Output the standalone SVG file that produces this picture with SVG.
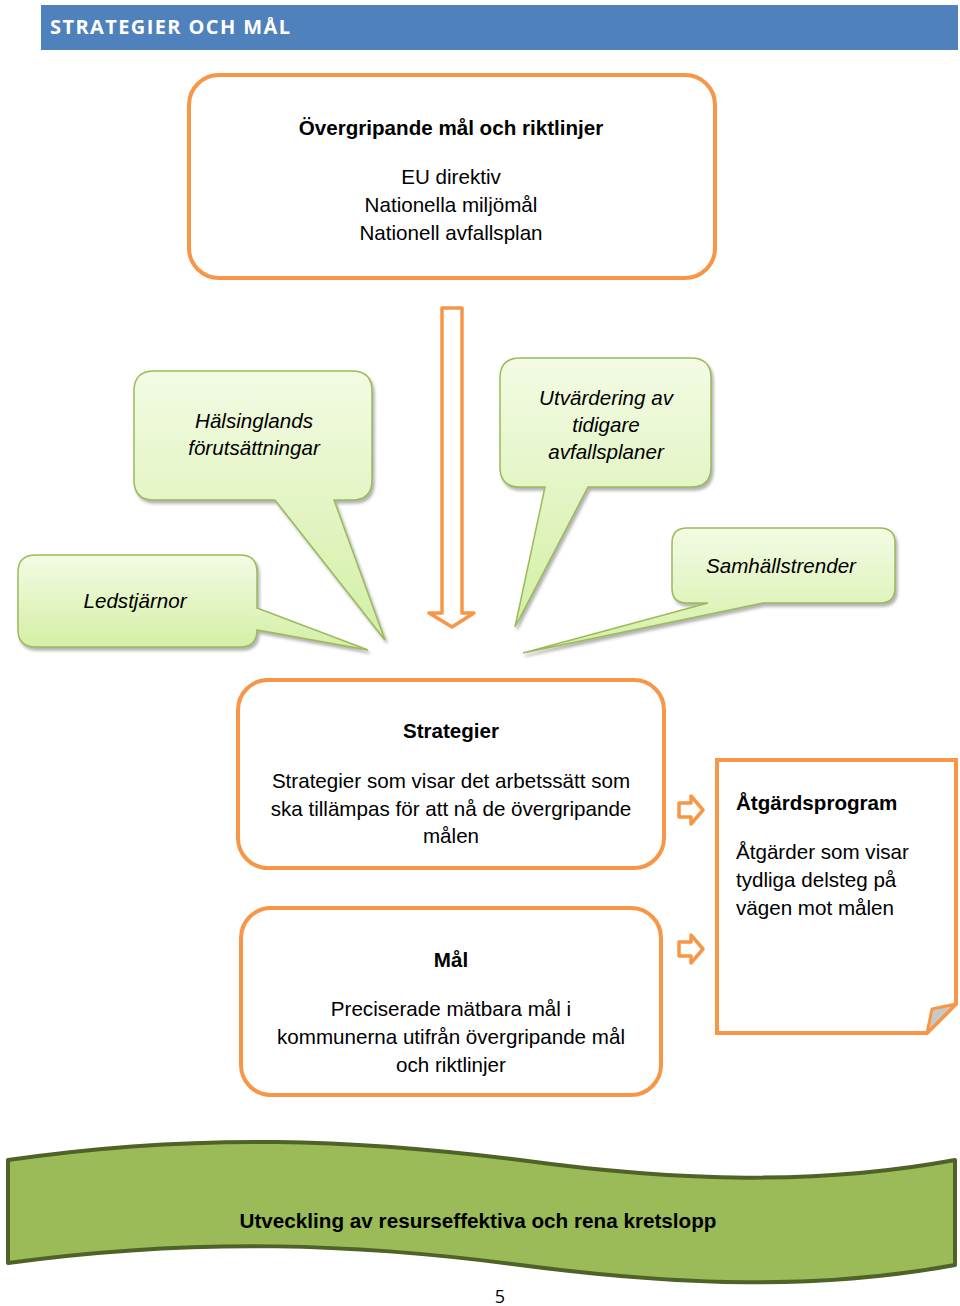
<svg xmlns="http://www.w3.org/2000/svg" width="960" height="1306" viewBox="0 0 960 1306">
<style>
.t{font-family:"Liberation Sans",Arial,sans-serif;font-size:20.6px;fill:#000}
.b{font-weight:bold}
.i{font-style:italic}
.c{text-anchor:middle}
.ob{fill:#fff;stroke:#f79646;stroke-width:4}
.gc{fill:url(#gg);stroke:#9bbb59;stroke-width:1.5;filter:url(#sh)}
.oa{fill:#fff;stroke:#f79646;stroke-width:3.5;stroke-linejoin:round}
</style>
<defs>
<linearGradient id="gg" x1="0" y1="0" x2="0" y2="1">
<stop offset="0" stop-color="#f3fbe4"/>
<stop offset="1" stop-color="#d3efa4"/>
</linearGradient>
<filter id="sh" x="-10%" y="-10%" width="130%" height="130%">
<feDropShadow dx="2" dy="3" stdDeviation="1.5" flood-color="#808080" flood-opacity="0.6"/>
</filter>
</defs>
<g id="header">
<rect x="41" y="5" width="917" height="45" fill="#4f81bd"/>
<text x="50" y="34" font-family="'Open Sans',sans-serif" font-size="20" font-weight="bold" fill="#fff" letter-spacing="1.4">STRATEGIER OCH MÅL</text>
</g>
<g id="overgripande">
<rect class="ob" x="189" y="75" width="526" height="203" rx="30"/>
<text class="t b c" x="451" y="135">Övergripande mål och riktlinjer</text>
<text class="t c" x="451" y="184">EU direktiv</text>
<text class="t c" x="451" y="212">Nationella miljömål</text>
<text class="t c" x="451" y="240">Nationell avfallsplan</text>
</g>
<g id="connectors">
<path class="oa" d="M442,308 H462 V613 H474 L452,627 L429,613 H442 Z"/>
<path class="oa" d="M679,803 H691 V796 L703,810 L691,824 V817 H679 Z"/>
<path class="oa" d="M679,942 H691 V935 L703,949 L691,963 V956 H679 Z"/>
</g>
<g id="halsinglands">
<path class="gc" d="M154,371 H352 Q372,371 372,391 V480 Q372,500 352,500 H334 L385,640 L275,500 H154 Q134,500 134,480 V391 Q134,371 154,371 Z"/>
<text class="t i c" x="254" y="428">Hälsinglands</text>
<text class="t i c" x="254" y="455">förutsättningar</text>
</g>
<g id="utvardering">
<path class="gc" d="M520,358 H691 Q711,358 711,378 V467 Q711,487 691,487 H588 L515,627 L545,487 H520 Q500,487 500,467 V378 Q500,358 520,358 Z"/>
<text class="t i c" x="606" y="405">Utvärdering av</text>
<text class="t i c" x="606" y="432">tidigare</text>
<text class="t i c" x="606" y="459">avfallsplaner</text>
</g>
<g id="samhallstrender">
<path class="gc" d="M687,528 H880 Q895,528 895,543 V588 Q895,603 880,603 H763 L523,653 L708,603 H687 Q672,603 672,588 V543 Q672,528 687,528 Z"/>
<text class="t i c" x="781" y="573">Samhällstrender</text>
</g>
<g id="ledstjarnor">
<path class="gc" d="M36,555 H240 Q257,555 257,572 V608 L368,650 L257,630 V630 Q257,647 240,647 H36 Q18,647 18,630 V572 Q18,555 36,555 Z"/>
<text class="t i c" x="135" y="608">Ledstjärnor</text>
</g>
<g id="strategier">
<rect class="ob" x="238" y="680" width="426" height="188" rx="30"/>
<text class="t b c" x="451" y="738">Strategier</text>
<text class="t c" x="451" y="788">Strategier som visar det arbetssätt som</text>
<text class="t c" x="451" y="816">ska tillämpas för att nå de övergripande</text>
<text class="t c" x="451" y="843">målen</text>
</g>
<g id="mal">
<rect class="ob" x="241" y="908" width="420" height="187" rx="30"/>
<text class="t b c" x="451" y="967">Mål</text>
<text class="t c" x="451" y="1016">Preciserade mätbara mål i</text>
<text class="t c" x="451" y="1044">kommunerna utifrån övergripande mål</text>
<text class="t c" x="451" y="1072">och riktlinjer</text>
</g>
<g id="atgardsprogram">
<path class="ob" d="M717,760 H956 V1004 L927,1033 H717 Z"/>
<path d="M956,1004 L932,1009 L927,1033 Z" fill="#c8c8c8" stroke="#f79646" stroke-width="3" stroke-linejoin="round"/>
<text class="t b" x="736" y="810">Åtgärdsprogram</text>
<text class="t" x="736" y="859">Åtgärder som visar</text>
<text class="t" x="736" y="887">tydliga delsteg på</text>
<text class="t" x="736" y="915">vägen mot målen</text>
</g>
<g id="utveckling">
<path d="M8,1160 C200,1132 360,1140 520,1160 C680,1182 820,1185 955,1160 V1265 C820,1290 680,1286 520,1265 C360,1244 200,1237 8,1263 Z" fill="#9bbb59" stroke="#4f6228" stroke-width="4" stroke-linejoin="round"/>
<text class="t b c" x="478" y="1228" textLength="477" lengthAdjust="spacingAndGlyphs">Utveckling av resurseffektiva och rena kretslopp</text>
</g>
<text x="500" y="1303" font-family="'Open Sans',sans-serif" font-size="18" text-anchor="middle" fill="#000">5</text>
</svg>
